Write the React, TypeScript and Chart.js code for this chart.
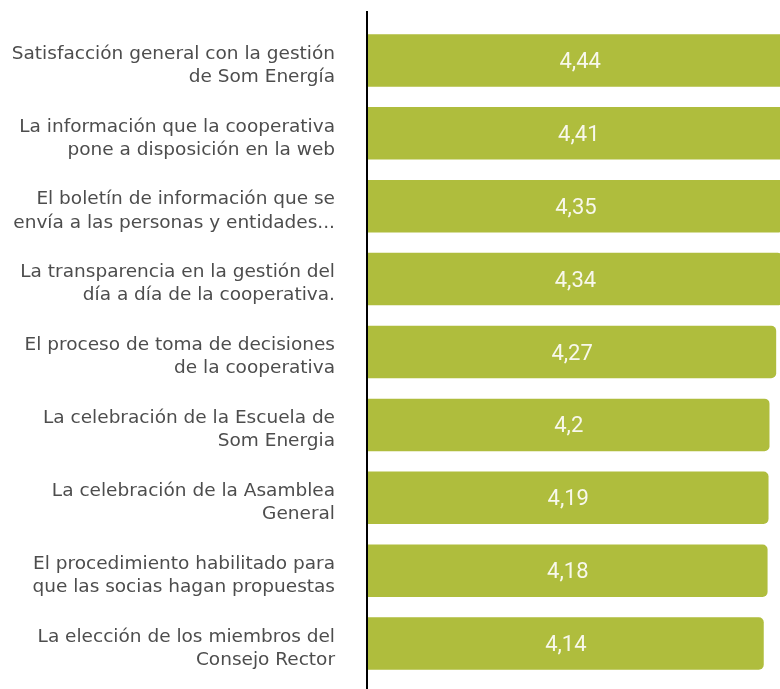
import React, { useEffect, useRef } from "react";
import { Chart, registerables } from "chart.js";

Chart.register(...registerables);

const categories: string[][] = [
  ["Satisfacción general con la gestión", "de Som Energía"],
  ["La información que la cooperativa", "pone a disposición en la web"],
  ["El boletín de información que se", "envía a las personas y entidades..."],
  ["La transparencia en la gestión del", "día a día de la cooperativa."],
  ["El proceso de toma de decisiones", "de la cooperativa"],
  ["La celebración de la Escuela de", "Som Energia"],
  ["La celebración de la Asamblea", "General"],
  ["El procedimiento habilitado para", "que las socias hagan propuestas"],
  ["La elección de los miembros del", "Consejo Rector"],
];

const values: number[] = [4.44, 4.41, 4.35, 4.34, 4.27, 4.2, 4.19, 4.18, 4.14];

const valueLabels: string[] = values.map((v) => String(v).replace(".", ","));

const BAR_COLOR = "#afbd3d";

const valueLabelPlugin = {
  id: "valueLabels",
  afterDatasetsDraw(chart: any) {
    const ctx = chart.ctx;
    const meta = chart.getDatasetMeta(0);
    ctx.save();
    ctx.fillStyle = "#f8f8ec";
    ctx.font = '22px Roboto, "Noto Sans", sans-serif';
    ctx.textAlign = "center";
    ctx.textBaseline = "middle";
    meta.data.forEach((bar: any, i: number) => {
      const cx = (bar.x + bar.base) / 2;
      ctx.fillText(valueLabels[i], cx, bar.y + 2);
    });
    ctx.restore();
  },
};

const axisLinePlugin = {
  id: "axisLine",
  afterDraw(chart: any) {
    const ctx = chart.ctx;
    const a = chart.chartArea;
    ctx.save();
    ctx.strokeStyle = "#000000";
    ctx.lineWidth = 2;
    ctx.beginPath();
    ctx.moveTo(a.left - 1, a.top - 13);
    ctx.lineTo(a.left - 1, chart.height);
    ctx.stroke();
    ctx.restore();
  },
};

export default function App() {
  const canvasRef = useRef<HTMLCanvasElement | null>(null);

  useEffect(() => {
    document.body.style.margin = "0";
    const canvas = canvasRef.current;
    if (!canvas) return;
    const chart = new Chart(canvas, {
      type: "bar",
      data: {
        labels: categories,
        datasets: [
          {
            data: values,
            backgroundColor: BAR_COLOR,
            borderRadius: 5,
            borderSkipped: "start",
            barPercentage: 0.72,
            categoryPercentage: 1,
            clip: false,
          } as any,
        ],
      },
      options: {
        indexAxis: "y",
        animation: false,
        responsive: false,
        maintainAspectRatio: false,
        layout: { padding: { top: 24, bottom: 9, left: 0, right: 0 } },
        plugins: {
          legend: { display: false },
          tooltip: { enabled: false },
        },
        scales: {
          x: {
            display: false,
            min: 0,
            max: 4.31,
          },
          y: {
            grid: { display: false, drawTicks: false },
            border: { display: false },
            ticks: {
              color: "#4d4d4d",
              padding: 33,
              labelOffset: 5,
              font: { family: '"DejaVu Sans", sans-serif', size: 18.5, lineHeight: 1.25 },
            },
            afterFit(scale: any) {
              scale.width = 368;
              scale.paddingTop = 0;
              scale.paddingBottom = 0;
            },
          },
        },
      },
      plugins: [valueLabelPlugin, axisLinePlugin],
    });
    return () => chart.destroy();
  }, []);

  return (
    <div style={{ width: 780, height: 689 }}>
      <canvas ref={canvasRef} width={780} height={689} />
    </div>
  );
}
